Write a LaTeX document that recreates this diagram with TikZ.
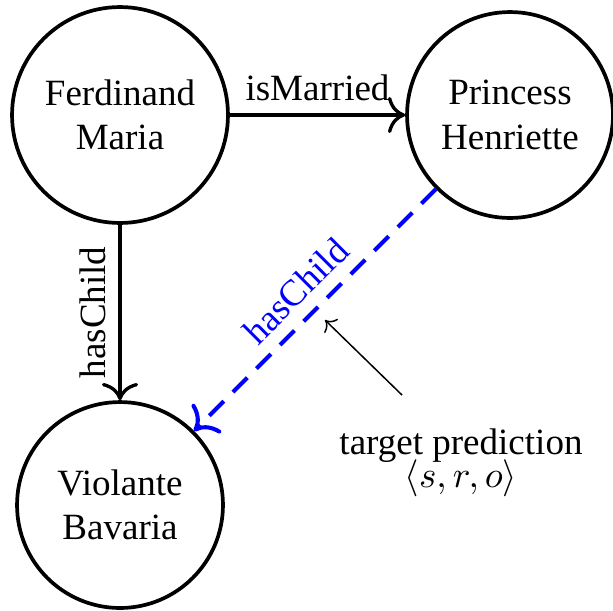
\documentclass[tikz,border=0pt]{standalone}
\usepackage{fontspec}
\setmainfont{Liberation Serif}
\usetikzlibrary{arrows.meta}

\begin{document}
\begin{tikzpicture}[x=0.27pt, y=0.27pt, line join=round, >={Computer Modern Rightarrow[scale=1.3]},
  ent/.style={circle, draw, line width=1pt, align=center, inner sep=0pt, minimum size=55.6pt},
  rel/.style={->, line width=0.9pt},
  pred/.style={->, blue, line width=1.1pt, dash pattern=on 5.5pt off 3.5pt}]
  \useasboundingbox (0,0) rectangle (613,610);
  % entities
  \node[ent, minimum size=58.3pt] (fm) at (120,495) {Ferdinand\\Maria};
  \node[ent] (ph) at (510,495) {Princess\\Henriette};
  \node[ent] (vb) at (120,105) {Violante\\Bavaria};
  \node[align=center] (tp) at (461,147) {target prediction\\[-3pt]$\langle s,r,o\rangle$};
  \coordinate (tail) at (402,215);
  \coordinate (tip) at (325,290);
  % relations
  \draw[rel] (fm) -- node[above] {isMarried} (ph);
  \draw[rel] (fm) -- node[rotate=90, anchor=south] {hasChild} (vb);
  \draw[pred] (ph) -- node[sloped, above] {hasChild} (vb);
  \draw[-{Computer Modern Rightarrow}, thin] (tail) -- (tip);
\end{tikzpicture}
\end{document}
